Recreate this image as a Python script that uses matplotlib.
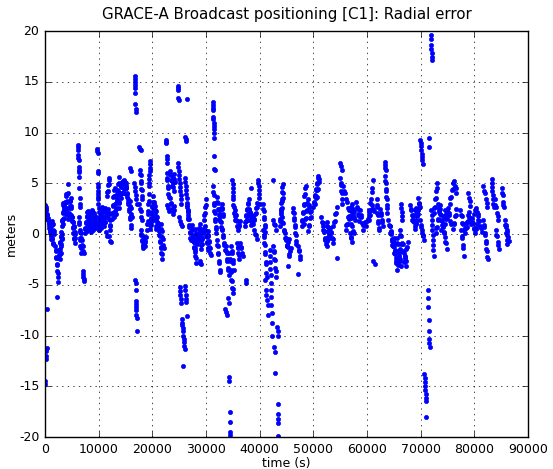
import numpy as np
import matplotlib
matplotlib.use('Agg')
import matplotlib.pyplot as plt

plt.style.use('classic')
plt.rcParams['axes.unicode_minus'] = False

# radial error arcs: (t start, t end, values in metres)
arcs_0_12k = [
    (0, 300, [-14.8, -14.5, -12.3, -12.0, -11.5, -11.2]),
    (300, 300, [-7.4]),
    (0, 500, [2.9, 2.6, 2.7, 2.4, 2.5, 2.0, 1.9, 1.5, 1.4]),
    (600, 1200, [1.6, 1.1, 1.2, 0.6, 0.7, 0.2, 0.3, -0.1, -0.2, -0.5]),
    (800, 1500, [0.9, 0.5, 0.6, 0.0, 0.2, -0.5, -0.4, -0.9, -1.0]),
    (1300, 1700, [1.3, 0.9, 1.0, 0.4, 0.3, 0.0]),
    (1900, 2450, [-1.2, -1.6, -1.7, -2.3, -2.4, -3.1, -3.0, -3.6, -3.8, -4.2, -4.7]),
    (2250, 2250, [-6.2]),
    (2500, 3050, [-2.4, -2.1, -1.6, -1.5, -0.9, -0.8, -0.3, -0.2, 0.2]),
    (2800, 3200, [-2.5, -2.0, -1.9, -1.2, -1.0, -0.5, -0.4, 0.0]),
    (3100, 3550, [0.8, 1.3, 1.4, 2.1, 2.2, 2.9, 3.1, 2.8, 2.6]),
    (3350, 3900, [1.0, 1.5, 1.6, 2.3, 2.4, 3.1, 3.2, 3.7, 3.9]),
    (3900, 4300, [2.0, 2.4, 2.6, 3.2, 3.3, 3.9, 4.0, 4.9]),
    (4300, 4750, [1.5, 1.9, 2.1, 2.6, 2.8, 3.3, 3.5]),
    (4700, 5050, [3.3, 2.8, 2.6, 1.9, 1.7, 1.3]),
    (5000, 5550, [1.7, 1.3, 1.2, 0.7, 0.6, 0.1, 0.1, -0.4, -0.5, -0.9]),
    (5300, 5650, [1.2, 0.8, 0.7, 0.2, 0.0, -0.4]),
    (6100, 6500, [8.8, 8.6, 8.3, 7.8, 7.5, 7.3, 6.6, 6.3, 6.1, 5.6, 4.5, 3.5, 3.0, 2.7]),
    (6300, 6700, [1.7, 1.2, 1.0, 0.4, 0.2, -0.4, -0.6, -1.2, -1.4, -1.9]),
    (6700, 7200, [0.1, -0.4, -0.6, -1.1, -1.2, -1.7, -1.9]),
    (7000, 7300, [-3.6, -3.9, -4.2, -4.4, -4.6]),
    (7400, 7950, [0.1, 0.5, 0.6, 1.1, 1.2, 1.7, 1.8, 2.2, 2.3]),
    (7800, 8400, [0.3, 0.7, 0.8, 1.3, 1.3, 1.8, 1.9, 2.2]),
    (8200, 8800, [0.5, 0.9, 0.9, 1.4, 1.4, 1.9, 1.9, 2.3, 2.4]),
    (8600, 9250, [0.2, 0.6, 0.7, 1.2, 1.3, 1.7, 1.8, 2.1, 1.8]),
    (9000, 9550, [0.4, 0.8, 0.9, 1.4, 1.5, 1.1, 1.0, 0.6]),
    (9700, 9800, [8.4, 8.2, 8.0]),
    (9800, 9900, [6.2, 6.0]),
    (9800, 10100, [4.9, 4.6, 4.2, 3.9, 3.6, 3.4, 3.0, 2.6, 2.2, 1.7, 1.2, 0.8, 0.4]),
    (10100, 10650, [0.4, 0.8, 0.9, 1.4, 1.5, 2.0, 2.1, 2.5, 2.7]),
    (10500, 11100, [0.6, 1.0, 1.1, 1.6, 1.7, 2.2, 2.3, 2.6]),
    (11000, 11600, [0.8, 1.2, 1.2, 1.7, 1.8, 2.2, 2.1, 1.7]),
    (11500, 12000, [3.7, 4.1, 4.2, 4.8, 4.9, 5.3, 5.5]),
    (11800, 12200, [2.5, 2.1, 2.0, 1.5, 1.4, 0.9, 0.8, 0.4]),
    (11400, 12300, [0.2, -0.2, -0.2, -0.7, -0.8]),
]

arcs_12k_26k = [
    (12400, 12950, [1.5, 2.0, 2.1, 2.8, 2.9, 3.6, 3.7, 4.3, 4.5]),
    (12800, 13400, [1.7, 2.2, 2.3, 3.0, 3.1, 3.7, 3.8, 4.3]),
    (13200, 13800, [2.0, 2.5, 2.6, 3.3, 3.4, 4.1, 4.2, 4.9, 5.0, 5.6]),
    (13700, 14300, [2.6, 3.1, 3.2, 3.8, 3.9, 4.6, 4.7, 5.1]),
    (14200, 14800, [3.5, 4.0, 4.0, 4.6, 4.7, 5.2, 5.3, 4.9, 4.6]),
    (14700, 15250, [4.0, 4.4, 4.5, 5.0, 5.1, 4.7, 4.5, 3.9, 3.6]),
    (15000, 15500, [5.0, 4.6, 4.5, 4.0, 3.9, 3.4, 3.2]),
    (15900, 16100, [6.5, 6.2]),
    (15500, 16050, [3.0, 2.5, 2.3, 1.7, 1.5, 0.9, 0.6]),
    (15800, 16200, [3.3, 2.8, 2.6, 2.0, 1.7]),
    (16700, 16900, [15.6, 15.3, 15.0, 14.7, 14.4, 13.9, 12.8, 12.3, 12.0]),
    (16600, 17100, [5.0, 4.6, 4.2, 3.8, 3.4, 3.0]),
    (16850, 17100, [-4.5, -4.8, -5.5, -6.6, -6.9, -7.2, -7.5, -8.0, -8.3, -9.6]),
    (17500, 17800, [8.6, 8.4, 8.3]),
    (17700, 18100, [6.3, 5.9, 5.8, 5.2, 5.0, 4.4, 4.3, 3.7, 3.4]),
    (17600, 18000, [3.0, 2.5, 2.3, 1.7, 1.4]),
    (17800, 18500, [0.4, 0.0, -0.1, -0.6, -0.7, -1.2, -1.4, -1.1, -1.0, -0.6]),
    (18200, 18800, [-0.2, -0.6, -0.7, -1.1, -1.2, -0.8, -0.7, -0.3]),
    (19000, 19350, [0.4, 1.0, 1.3, 2.0, 2.3, 3.0, 3.3, 3.9]),
    (19300, 19600, [4.7, 5.0, 5.4, 5.8, 6.2, 6.5, 6.9, 7.2]),
    (19500, 20050, [0.5, 0.9, 1.0, 1.5, 1.6, 2.1, 2.2, 2.7, 2.8, 3.2]),
    (19800, 20400, [0.9, 1.3, 1.4, 1.9, 2.0, 2.4, 2.0, 1.8]),
    (20200, 20750, [3.7, 3.2, 3.0, 2.4, 2.2, 1.6, 1.4, 0.8, 0.5]),
    (20500, 21100, [2.8, 2.4, 2.3, 1.8, 1.7, 1.2, 1.1, 0.7]),
    (21200, 21850, [0.3, -0.1, -0.2, -0.7, -0.8, -1.3, -1.4, -1.9, -2.0, -2.5]),
    (21600, 22100, [1.0, 0.5, 0.3, -0.3, -0.5, -1.1, -1.4]),
    (22550, 22700, [9.3, 9.1, 9.0, 7.7, 7.4, 7.0]),
    (22700, 23050, [6.0, 5.5, 5.3, 4.7, 4.5, 3.9, 3.6]),
    (22800, 23100, [2.9, 2.6, 2.3]),
    (23200, 23950, [6.2, 5.9, 5.8, 5.3, 5.2, 4.7, 4.6, 4.2]),
    (23300, 24050, [3.5, 3.1, 3.0, 2.5, 2.4, 2.0, 2.3, 2.4, 2.8]),
    (23800, 24150, [5.0, 5.4, 5.5, 5.9, 5.4, 5.1]),
    (24700, 24900, [14.6, 14.4, 14.2, 13.4, 13.2]),
    (24800, 25400, [7.0, 6.6, 6.2, 5.8, 5.4, 5.0, 4.6, 4.2, 3.8, 3.4, 3.0]),
    (24900, 25500, [1.7, 1.3, 1.0, 0.75]),
    (25100, 25300, [-5.2, -5.6, -6.0, -6.4, -6.8]),
    (25500, 26000, [-8.4, -8.8, -9.0, -9.3, -9.6, -10.0, -10.3, -10.6, -11.0, -11.3]),
    (25700, 25700, [-13.0]),
    (26100, 26400, [-5.1, -5.5, -6.0, -6.4, -6.7, -8.1]),
    (26100, 26300, [9.6, 9.4, 9.2]),
    (26450, 26450, [13.3]),
    (26100, 26700, [5.5, 5.1, 4.7, 4.3, 3.9, 3.5, 3.1, 2.7, 2.3, 1.9, 1.5]),
]

arcs_26k_44k = [
    (26500, 27150, [2.9, 2.4, 2.2, 1.6, 1.5, 0.9, 0.7, 0.2, 0.1, -0.4, -0.6]),
    (27300, 27900, [0.9, 0.5, 0.4, -0.1, -0.2, -0.7, -0.8, -1.3, -1.4, -1.8]),
    (27600, 28200, [-0.2, -0.6, -0.8, -1.4, -1.6, -2.2, -2.4, -2.9]),
    (28000, 28600, [0.5, 0.1, 0.0, -0.5, -0.6, -1.0, -0.7, -0.6, -0.2]),
    (28500, 29100, [-0.5, -0.1, 0.0, 0.5, 0.6, 1.0, 0.5, 0.3, -0.3, -0.6]),
    (28800, 29000, [-2.7, -2.9, -3.0]),
    (29000, 29600, [-1.5, -1.1, -1.0, -0.5, -0.4, 0.1, 0.2, 0.6]),
    (29600, 30000, [1.4, 1.9, 2.1, 2.7, 2.9, 3.4]),
    (29800, 30400, [0.8, 0.4, 0.3, -0.2, -0.3, -0.8, -0.9, -1.4, -1.6]),
    (30300, 30850, [0.3, -0.1, -0.2, -0.7, -0.8, -1.3, -1.4, -1.9, -2.1]),
    (31250, 31500, [13.0, 12.7, 12.4, 12.2, 11.5, 11.3, 10.9, 10.6, 10.3, 10.0, 9.5]),
    (31400, 31600, [7.7, 6.4, 6.3]),
    (31300, 31900, [4.7, 4.1, 3.8, 3.1, 2.9, 2.3, 2.1, 1.5, 1.3, 0.7, 0.5, 0.1]),
    (32000, 32600, [-0.6, -1.1, -1.2, -1.9, -2.0, -2.7, -2.9, -3.5, -3.7]),
    (32000, 32900, [3.6, 3.2, 3.1, 2.5, 2.4, 1.9, 1.8, 1.3, 1.2, 0.7, 0.5]),
    (32500, 33200, [1.5, 1.9, 2.0, 2.5, 2.6, 3.0, 2.6, 2.5, 2.0, 1.8]),
    (33000, 33450, [0.4, -0.1, -0.3, -0.9, -1.1, -1.6]),
    (33700, 34200, [-1.2, -1.7, -1.9, -2.5, -2.7, -3.3, -3.5, -4.0]),
    (33500, 33900, [-7.4, -7.7, -8.0]),
    (34100, 34200, [-6.3, -6.8]),
    (34300, 34500, [-14.1, -14.5, -17.5, -18.5, -19.5, -19.8]),
    (34300, 35100, [-1.9, -2.5, -2.7, -3.5, -3.7, -4.5, -4.6, -5.3, -5.4, -5.8]),
    (34700, 35200, [-1.2, -1.7, -1.9, -2.6, -2.9, -3.5]),
    (34900, 35100, [5.3, 4.9, 4.5, 4.1, 3.7]),
    (35000, 35400, [3.4, 2.9, 2.7, 2.1, 1.8, 1.4]),
    (35400, 36300, [2.4, 2.0, 1.9, 1.4, 1.3, 0.8, 0.7, 0.4, 0.8, 0.9, 1.3]),
    (35800, 36200, [-0.9, -1.3, -1.4, -1.9, -2.1, -2.5]),
    (36400, 36800, [-0.9, -1.3, -1.4, -1.9, -2.2]),
    (37400, 37500, [-4.5, -4.8]),
    (37200, 37950, [0.8, 1.2, 1.3, 1.8, 1.9, 2.4, 2.5, 3.0, 3.1, 3.4]),
    (37600, 38350, [1.4, 1.8, 1.9, 2.4, 2.5, 2.2, 2.1, 1.7]),
    (38000, 38750, [2.4, 2.0, 1.9, 1.4, 1.3, 0.9, 1.3, 1.4, 1.8]),
    (38350, 38350, [4.5]),
    (38800, 39550, [1.0, 1.4, 1.5, 2.0, 2.1, 2.6, 2.7, 3.1]),
    (39700, 40000, [5.3, 5.0, 4.7, 4.3, 3.9, 3.5, 3.0]),
    (39000, 39500, [0.4, 0.0, -0.1, -0.5]),
    (40600, 41050, [3.0, 2.5, 2.3, 1.7, 1.5, 0.9, 0.7, 0.2]),
    (40700, 41300, [0.4, -0.1, -0.3, -0.9, -1.1, -1.8, -2.0, -2.8, -3.0, -3.8, -4.2]),
    (41000, 41600, [-4.5, -5.5, -6.0, -6.5, -7.0, -8.0]),
    (41900, 42300, [-1.6, -2.2, -2.8, -3.4, -4.0, -4.8, -5.5, -6.2, -7.0, -7.8, -8.8, -10.0]),
    (42700, 42900, [-11.1, -11.6, -13.7]),
    (43300, 43500, [-9.2, -9.6, -10.0, -16.7, -17.7, -18.2, -18.6, -19.9]),
    (42500, 42500, [5.3]),
    (42500, 43100, [1.4, 1.0, 0.9, 0.4]),
    (42500, 43100, [-1.2, -1.7, -1.8, -2.5, -2.6, -3.3, -3.6, -4.2]),
    (43700, 44300, [0.75, 1.3, 1.5, 2.2, 2.4, 3.1, 3.4, 4.1, 4.6, 4.9]),
    (43900, 44400, [2.0, 2.5, 2.6, 3.3, 3.5, 4.0]),
]

arcs_44k_68k = [
    (44100, 45400, [1.7, 1.2, 1.1, 0.4, 0.3, -0.4, -0.6, -1.1, -1.2, -0.8, -0.5]),
    (44700, 45800, [0.1, -0.4, -0.5, -1.2, -1.3, -2.0, -2.2, -1.7, -1.4]),
    (45300, 45300, [-3.2]),
    (46200, 46850, [2.6, 2.2, 2.1, 1.6, 1.4, 0.9, 0.7, 0.1, -0.1, -0.7, -1.0]),
    (47200, 47600, [-1.2, -1.6, -1.7, -2.2, -2.5]),
    (47100, 47100, [-3.9]),
    (47800, 48550, [0.75, 1.3, 1.4, 2.1, 2.2, 2.9, 3.0, 3.7, 3.9, 4.5, 4.7]),
    (48300, 49400, [1.0, 1.5, 1.6, 2.3, 2.4, 3.1, 3.4, 2.9, 2.7, 2.2]),
    (49000, 49650, [0.3, 0.8, 0.9, 1.6, 1.7, 2.3]),
    (50000, 50950, [2.7, 3.1, 3.2, 3.7, 3.8, 4.3, 4.4, 4.9, 5.0, 5.5, 5.7]),
    (50400, 51100, [3.0, 3.5, 3.6, 4.3, 4.4, 5.1, 5.4]),
    (51500, 52900, [1.7, 1.2, 1.1, 0.4, 0.3, -0.4, -0.6, -1.0, -0.5, -0.3, 0.3, 0.6]),
    (51800, 52900, [0.8, 0.3, 0.2, -0.5, -0.6, -1.2, -0.7, -0.5, 0.0]),
    (52500, 53100, [1.2, 0.8, 0.7, 0.2, 0.1, -0.3]),
    (53100, 53700, [0.6, 0.2, 0.1, -0.4, -0.5, -0.9]),
    (53700, 54350, [0.75, 1.2, 1.3, 2.0, 2.1, 2.7]),
    (54400, 54400, [-2.4]),
    (55000, 55300, [7.0, 6.7, 6.3]),
    (55000, 55400, [5.5, 5.0, 4.8, 4.2, 4.0, 3.4, 3.0]),
    (55600, 57600, [4.7, 4.2, 4.0, 3.4, 3.2, 2.6, 2.4, 1.8, 1.6, 1.0, 0.8, 0.3, 0.1]),
    (56000, 57300, [0.4, 0.9, 1.0, 1.7, 1.8, 2.5, 2.7, 2.3, 2.0]),
    (56500, 57800, [1.0, 1.5, 1.6, 2.3, 2.4, 3.0, 2.5, 2.3, 1.7, 1.4]),
    (56800, 57250, [0.1, -0.3, -0.4, -0.8]),
    (58000, 58600, [3.2, 2.7, 2.5, 2.0, 1.8, 1.3]),
    (58700, 59550, [2.4, 1.9, 1.7, 1.1, 0.9, 0.4, 0.9, 1.2]),
    (59900, 61150, [0.75, 1.3, 1.5, 2.2, 2.4, 3.1, 3.4, 4.1, 4.5, 5.3]),
    (60300, 61300, [1.4, 1.8, 1.9, 2.4, 2.5, 2.9, 2.5, 2.3]),
    (61200, 61400, [-2.7, -3.0]),
    (61800, 62200, [3.4, 2.9, 2.7, 2.1, 1.9, 1.3, 1.1, 0.6, 0.4]),
    (62400, 63000, [2.5, 2.1, 1.9, 1.4, 1.2, 0.8]),
    (63300, 63500, [7.1, 6.8, 6.5, 6.3]),
    (63400, 63800, [5.7, 5.2, 5.0, 4.4, 4.2, 3.6, 3.4, 2.9, 2.6, 2.1]),
    (63900, 64950, [1.4, 0.9, 0.8, 0.1, 0.0, -0.7, -0.9, -1.2]),
    (64300, 65100, [0.8, 0.3, 0.2, -0.5, -0.6, -1.2, -0.9, -0.4]),
    (64600, 66200, [-0.6, -1.1, -1.2, -1.9, -2.0, -2.7, -2.9, -3.5, -3.1, -2.4, -2.1, -1.5]),
    (65000, 66300, [-1.0, -1.6, -1.7, -2.4, -2.6, -3.0, -2.5, -2.3, -1.7, -1.0]),
    (65500, 66350, [-0.4, -0.9, -1.0, -1.7, -1.8, -2.5, -2.7, -3.2]),
    (66100, 67350, [0.4, -0.1, -0.2, -0.9, -1.0, -1.7, -1.9, -2.5, -2.7, -3.2]),
    (66300, 66600, [3.0, 2.6, 2.2, 1.8, 1.4]),
    (66900, 67550, [-2.8, -2.3, -2.2, -1.5, -1.3, -0.8]),
]

arcs_68k_86k = [
    (68000, 69450, [2.9, 2.5, 2.4, 1.9, 1.8, 1.3, 1.2, 0.8, 1.3, 1.4, 2.0, 2.4]),
    (68400, 69450, [1.4, 1.8, 1.9, 2.4, 2.6, 2.2, 2.0]),
    (69000, 69500, [0.5, 1.0, 1.1, 1.8, 1.9, 2.5]),
    (69500, 70350, [3.5, 3.1, 3.0, 2.7, 1.4, 0.9, 0.7, 0.1, -0.2]),
    (69900, 70400, [9.3, 9.0, 8.7, 8.3, 7.9, 7.6, 7.3, 6.9]),
    (70200, 70600, [0.4, -0.1, -0.6]),
    (71500, 71600, [9.5, 8.6]),
    (71900, 72100, [19.6, 19.2, 18.6, 18.2, 17.8, 17.4, 17.1]),
    (70700, 71000, [-13.8, -14.2, -14.6, -15.0, -15.4, -15.8, -16.2, -16.5]),
    (70900, 70900, [-18.0]),
    (71300, 71700, [-5.5, -6.3, -7.2, -8.5, -9.6, -10.3, -10.7, -11.1]),
    (72000, 72400, [2.4, 1.9, 1.4, 0.9, 0.4, -0.1, -0.6, -1.1, -1.6, -2.2]),
    (72400, 73050, [2.1, 2.6, 2.7, 3.4, 3.5, 4.2, 4.5, 5.0]),
    (72800, 73600, [0.1, 0.6, 0.7, 1.4, 1.5, 2.2, 2.4, 2.9]),
    (73300, 74400, [3.0, 2.6, 2.5, 2.0, 1.9, 1.4, 1.3, 0.8, 0.7, 0.2, 0.1]),
    (73800, 74900, [0.4, 0.9, 1.0, 1.7, 1.8, 2.4, 2.0, 1.6]),
    (74500, 75600, [1.0, 1.5, 1.6, 2.3, 2.6, 2.1, 1.9, 1.3, 1.0]),
    (74500, 74850, [-0.3, -0.8, -0.9, -1.5]),
    (75400, 76650, [3.0, 3.5, 3.6, 4.3, 4.4, 5.0, 5.2, 4.7, 4.5, 4.0]),
    (76000, 76650, [0.5, 1.0, 1.1, 1.8, 1.9, 2.5]),
    (77600, 78000, [0.4, -0.2, -0.4, -1.1, -1.4, -2.2]),
    (77300, 78750, [2.4, 1.9, 1.8, 1.1, 1.0, 0.4, 0.1, 0.6, 0.7, 1.3]),
    (78300, 79400, [0.6, 1.1, 1.2, 1.9, 2.2, 1.7, 1.5, 1.0]),
    (78900, 79200, [4.0, 3.5, 3.3, 2.8]),
    (79500, 80500, [1.6, 1.2, 1.1, 0.6, 0.5, 0.1, 0.5, 0.6, 1.0]),
    (80000, 80650, [2.0, 2.4, 2.6, 2.2, 2.0]),
    (80600, 81400, [1.8, 1.4, 1.3, 0.8, 0.6, 0.2]),
    (81600, 82450, [4.7, 4.2, 4.0, 3.4, 3.1, 2.7]),
    (81700, 82500, [1.4, 0.9, 0.7, 0.1, -0.1, -0.7, -0.9, -1.5, -1.7, -2.3, -2.5]),
    (83200, 83600, [5.4, 5.0, 4.6, 4.2, 3.8, 3.4, 3.0, 2.7]),
    (83800, 84450, [3.4, 2.9, 2.7, 2.1, 1.8, 1.4]),
    (84000, 84550, [0.4, -0.1, -0.2, -0.8, -1.1, -1.5]),
    (85100, 85500, [4.5, 4.0, 3.8, 3.2, 2.9, 2.7]),
    (85700, 86150, [1.4, 0.9, 0.7, 0.1, -0.1, -0.6, -1.0]),
    (85900, 86400, [0.9, 0.4, 0.2, -0.3, -0.7]),
]

x_ticks = [0, 10000, 20000, 30000, 40000, 50000, 60000, 70000, 80000, 90000]
y_ticks = [-20, -15, -10, -5, 0, 5, 10, 15, 20]


def arc_points(arcs):
    t, v = [], []
    for t0, t1, vals in arcs:
        t.extend(np.linspace(t0, t1, len(vals)))
        v.extend(vals)
    return t, v


fig = plt.figure(figsize=(5.53, 4.69), dpi=100, facecolor='white')
ax = fig.add_axes([0.0814, 0.0682, 0.8734, 0.8657])

for arcs in [arcs_0_12k, arcs_12k_26k, arcs_26k_44k, arcs_44k_68k, arcs_68k_86k]:
    t, v = arc_points(arcs)
    ax.plot(t, v, 'b.', markersize=6)

ax.set_xlim(0, 90000)
ax.set_ylim(-20, 20)
ax.set_xticks(x_ticks)
ax.set_yticks(y_ticks)
ax.grid(True)
ax.tick_params(labelsize=9)
ax.set_title('GRACE-A Broadcast positioning [C1]: Radial error', fontsize=10.8, pad=9)
ax.set_xlabel('time (s)', fontsize=9, labelpad=1)
ax.set_ylabel('meters', fontsize=9, labelpad=1)

fig.savefig('out.png', dpi=100, facecolor='white')
